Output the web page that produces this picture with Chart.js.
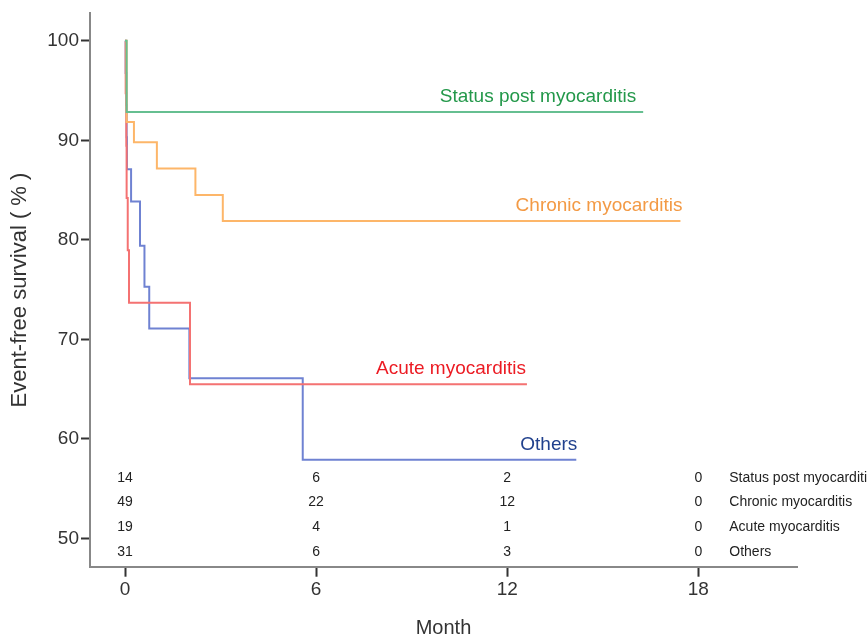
<!DOCTYPE html>
<html>
<head>
<meta charset="utf-8">
<script src="https://cdn.jsdelivr.net/npm/chart.js@4.4.1/dist/chart.umd.min.js"></script>
<style>
    html, body { margin: 0; padding: 0; background: #fff; }
    #chart1 { width: 867px; height: 640px; }
</style>
</head>
<body>
<div id="chart1"><canvas id="chartSurvival"></canvas></div>
<script>
// Courbes de survie (temps en mois, survie en %)
const statusTimes = [0, 0.05, 16.27];
const statusSurv = [100, 92.86, 92.86];

const chronicTimes = [0, 0.05, 0.28, 1.0, 2.21, 3.07, 17.44];
const chronicSurv = [100, 91.84, 89.8, 87.18, 84.52, 81.9, 81.9];

const acuteTimes = [0, 0.02, 0.04, 0.05, 0.085, 0.125, 2.04, 12.62];
const acuteSurv = [100, 94.74, 89.47, 84.21, 78.95, 73.68, 65.5, 65.5];

const othersTimes = [0, 0.02, 0.04, 0.05, 0.06, 0.19, 0.47, 0.61, 0.76, 2.02, 5.58, 14.17];
const othersSurv = [100, 96.77, 93.55, 90.32, 87.1, 83.87, 79.4, 75.3, 71.1, 66.1, 57.9, 57.9];

// Nombre de sujets à risque
const riskTimes = [0, 6, 12, 18];
const riskStatus = [14, 6, 2, 0];
const riskChronic = [49, 22, 12, 0];
const riskAcute = [19, 4, 1, 0];
const riskOthers = [31, 6, 3, 0];

const groupNames = ['Status post myocarditis', 'Chronic myocarditis', 'Acute myocarditis', 'Others'];
const xTicks = [0, 6, 12, 18];
const yTicks = [50, 60, 70, 80, 90, 100];

const FONT = 'Liberation Sans, Arial, sans-serif';

function toPoints(times, values) {
    return times.map((t, i) => ({ x: t, y: values[i] }));
}

// Nom du groupe au bout de chaque courbe
const curveLabels = {
    id: 'curveLabels',
    afterDatasetsDraw(chart) {
        const ctx = chart.ctx;
        ctx.save();
        ctx.font = '19px ' + FONT;
        ctx.textAlign = 'right';
        ctx.textBaseline = 'alphabetic';
        chart.data.datasets.forEach((ds, i) => {
            const meta = chart.getDatasetMeta(i);
            const last = meta.data[meta.data.length - 1];
            ctx.fillStyle = ds.labelColor;
            ctx.fillText(ds.label, last.x + ds.labelShift, last.y - 10);
        });
        ctx.restore();
    }
};

// Tableau des sujets à risque en bas du graphique
const riskTable = {
    id: 'riskTable',
    afterDraw(chart) {
        const ctx = chart.ctx;
        const xs = chart.scales.x;
        const bottom = chart.chartArea.bottom;
        const rows = [riskStatus, riskChronic, riskAcute, riskOthers];
        const offsets = [89, 65, 40, 15];
        ctx.save();
        ctx.font = '14px ' + FONT;
        ctx.fillStyle = '#222';
        ctx.textBaseline = 'middle';
        rows.forEach((row, r) => {
            const y = bottom - offsets[r];
            ctx.textAlign = 'center';
            row.forEach((n, j) => {
                ctx.fillText(String(n), xs.getPixelForValue(riskTimes[j]), y);
            });
            ctx.textAlign = 'left';
            ctx.fillText(groupNames[r], xs.getPixelForValue(riskTimes[riskTimes.length - 1]) + 31, y);
        });
        ctx.restore();
    }
};

const survival = new Chart(
    document.getElementById('chartSurvival'), {
        type: 'line',
        data: {
            datasets: [{
                label: groupNames[0],
                data: toPoints(statusTimes, statusSurv),
                borderColor: '#66bf91',
                labelColor: '#23984a',
                labelShift: -7
            }, {
                label: groupNames[1],
                data: toPoints(chronicTimes, chronicSurv),
                borderColor: '#fdb669',
                labelColor: '#f39a45',
                labelShift: 2
            }, {
                label: groupNames[2],
                data: toPoints(acuteTimes, acuteSurv),
                borderColor: '#f47272',
                labelColor: '#ec1b23',
                labelShift: -1
            }, {
                label: groupNames[3],
                data: toPoints(othersTimes, othersSurv),
                borderColor: '#6f82d2',
                labelColor: '#21418d',
                labelShift: 1
            }]
        },
        options: {
            responsive: true,
            maintainAspectRatio: false,
            animation: false,
            layout: { padding: { top: 9, right: 70, left: 0, bottom: 0 } },
            elements: {
                point: { radius: 0 },
                line: { borderWidth: 2, stepped: 'before', fill: false }
            },
            plugins: {
                legend: { display: false },
                tooltip: { enabled: false }
            },
            scales: {
                x: {
                    type: 'linear',
                    min: -1.1,
                    max: 21.1,
                    afterBuildTicks: (s) => { s.ticks = xTicks.map(v => ({ value: v })); },
                    afterFit: (s) => { s.height = 73.3; },
                    ticks: { font: { size: 19, family: FONT }, color: '#333', padding: 2, maxRotation: 0, autoSkip: false },
                    grid: { drawOnChartArea: false, tickLength: 10, tickColor: '#333', tickWidth: 2 },
                    border: { color: '#888', width: 2 },
                    title: { display: true, text: 'Month', font: { size: 20, family: FONT }, color: '#333', padding: 0 }
                },
                y: {
                    type: 'linear',
                    min: 47.16,
                    max: 102.76,
                    afterBuildTicks: (s) => { s.ticks = yTicks.map(v => ({ value: v })); },
                    afterFit: (s) => { s.width = 90; },
                    ticks: { font: { size: 19, family: FONT }, color: '#333', padding: 2 },
                    grid: { drawOnChartArea: false, tickLength: 9, tickColor: '#333', tickWidth: 2 },
                    border: { color: '#888', width: 2 },
                    title: { display: true, text: 'Event-free survival ( % )', font: { size: 22, family: FONT }, color: '#333', padding: 7 }
                }
            }
        },
        plugins: [curveLabels, riskTable]
    }
);
</script>
</body>
</html>
